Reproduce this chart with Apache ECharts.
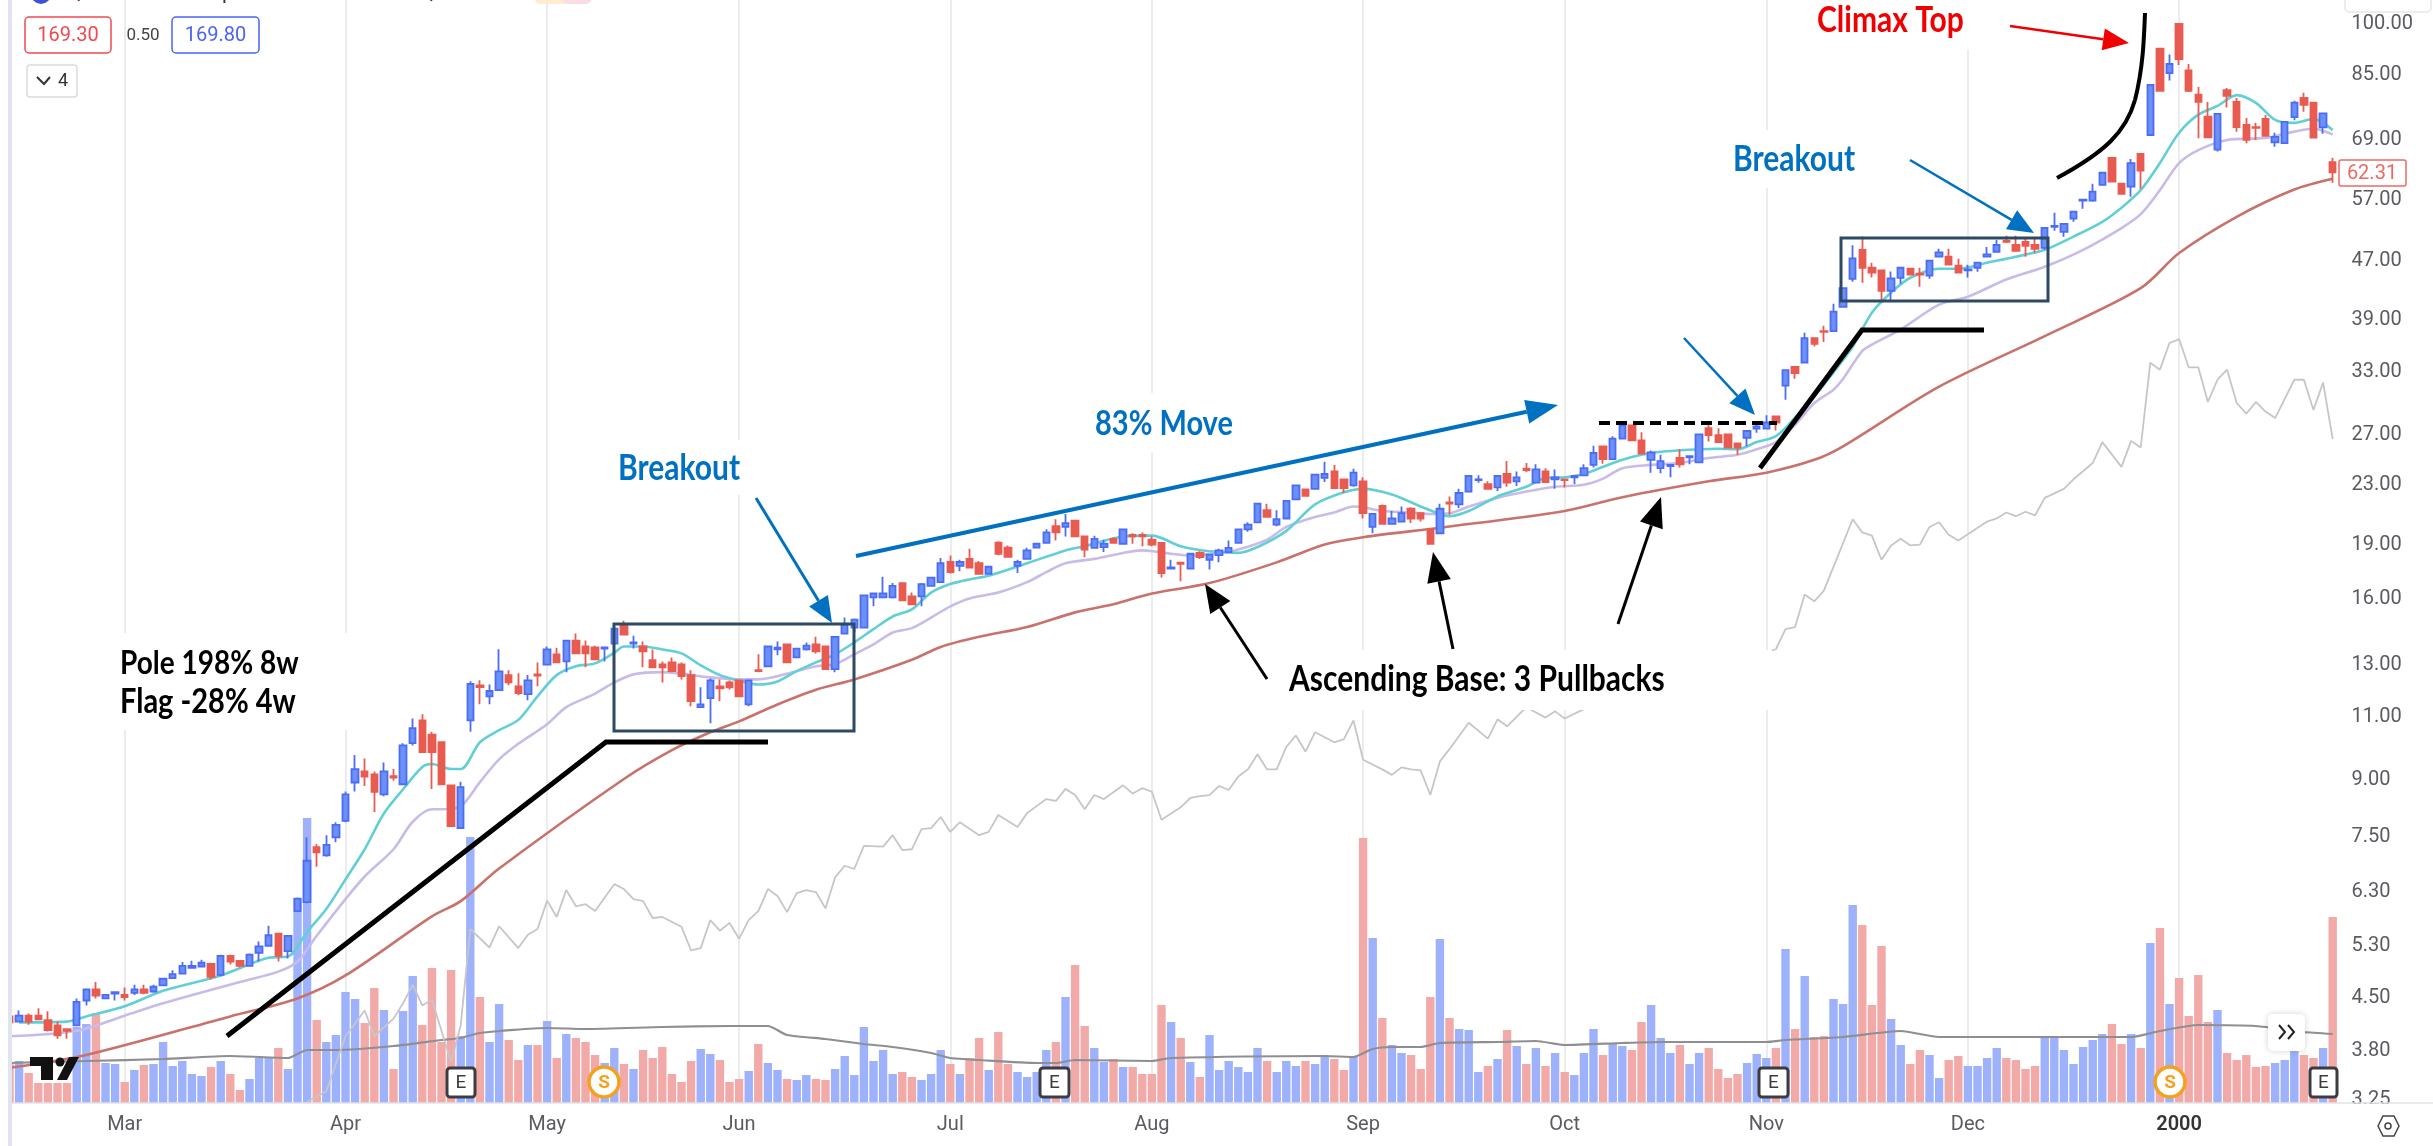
<!DOCTYPE html>
<html>
<head>
<meta charset="utf-8">
<title>QUALCOMM 1999</title>
<script src="https://cdn.jsdelivr.net/npm/echarts@6/dist/echarts.min.js"></script>
<style>
html, body { margin: 0; padding: 0; background: #fff; }
#main { width: 2433px; height: 1146px; }
</style>
</head>
<body>
<div id="main"></div>
<script>
// month labels and where they fall (trading day index)
var monthIdx = [12, 35, 56, 76, 98, 119, 141, 162, 183, 204, 226];
var monthNames = ['Mar', 'Apr', 'May', 'Jun', 'Jul', 'Aug', 'Sep', 'Oct', 'Nov', 'Dec', '2000'];
var dayCount = 243;
var priceTicks = [100, 85, 69, 57, 47, 39, 33, 27, 23, 19, 16, 13, 11, 9, 7.5, 6.3, 5.3, 4.5, 3.8, 3.25];

// open, close, low, high
var ohlc = [
[4.24,4.16,4.14,4.26],[4.17,4.25,4.16,4.32],[4.25,4.17,4.13,4.28],[4.25,4.20,4.19,4.35],[4.19,4.06,4.04,4.31],[4.12,3.99,3.95,4.17],[4.07,4.05,3.95,4.07],[4.12,4.44,4.12,4.49],[4.46,4.62,4.39,4.63],[4.62,4.53,4.49,4.73],
[4.49,4.54,4.49,4.55],[4.56,4.58,4.46,4.58],[4.54,4.51,4.46,4.65],[4.57,4.62,4.54,4.69],[4.62,4.57,4.55,4.69],[4.59,4.66,4.57,4.69],[4.68,4.78,4.68,4.79],[4.79,4.85,4.79,4.91],[4.86,4.98,4.86,5.04],[4.95,4.98,4.95,5.06],
[4.97,5.03,4.96,5.08],[5.01,4.81,4.77,5.03],[4.84,5.14,4.82,5.16],[5.14,5.05,5.00,5.16],[5.06,4.98,4.96,5.07],[4.98,5.16,4.97,5.18],[5.19,5.30,5.05,5.38],[5.31,5.49,5.31,5.66],[5.52,5.14,5.05,5.52],[5.22,5.48,5.10,5.49],
[5.93,6.17,5.93,6.19],[6.10,6.96,6.08,7.5],[7.27,7.15,6.83,7.34],[7.08,7.32,7.05,7.55],[7.50,7.80,7.38,7.87],[7.9,8.6,7.87,8.68],[8.93,9.32,8.68,9.75],[9.25,9.10,8.83,9.64],[9.16,8.67,8.13,9.25],[8.6,9.25,8.55,9.52],
[9.11,9.07,8.98,9.32],[8.88,10.05,8.85,10.12],[10.12,10.62,10.05,10.95],[10.88,9.84,9.84,11.1],[10.4,9.84,8.75,10.5],[10.15,8.88,8.88,10.15],[8.85,7.77,7.77,8.85],[7.72,8.8,7.7,8.95],[10.88,12.22,10.5,12.33],[12.17,12.1,11.46,12.37],
[11.75,11.95,11.46,12.2],[11.98,12.72,11.95,13.65],[12.57,12.28,12.17,12.77],[12.13,11.87,11.79,12.65],[11.83,12.36,11.6,12.57],[12.60,12.55,12.13,13.09],[13.0,13.64,12.97,13.77],[13.43,13.09,13.05,13.72],[13.13,14.03,12.69,14.03],[14.03,13.47,13.47,14.35],
[13.77,13.47,12.89,14.03],[13.73,13.22,13.18,13.8],[13.68,13.73,13.13,13.75],[13.9,14.58,13.86,14.6],[14.71,14.3,14.3,14.95],[13.9,13.95,13.68,14.25],[13.77,13.56,12.89,13.99],[13.18,12.89,12.89,13.64],[13.01,12.89,12.28,13.13],[13.09,12.73,12.69,13.3],
[13.01,12.53,12.4,13.09],[12.57,11.57,11.38,12.77],[11.35,11.45,11.35,12.09],[11.68,12.36,10.78,12.44],[12.13,12.05,11.57,12.4],[12.28,12.09,12.01,12.36],[12.36,11.75,11.75,12.36],[11.45,12.36,11.38,12.36],[12.77,12.73,12.69,13.43],[12.93,13.77,12.9,13.8],
[13.64,13.72,13.39,13.99],[13.86,13.09,13.05,13.9],[13.3,13.68,13.28,13.7],[13.64,13.81,13.6,13.95],[13.86,13.56,13.47,14.2],[13.77,12.81,12.78,13.8],[12.81,14.2,12.69,14.22],[14.35,14.76,14.35,15.1],[14.62,15.0,14.42,15.05],[14.62,16.2,14.6,16.22],
[16.1,16.3,15.65,16.32],[16.1,16.3,16.1,17.2],[16.1,16.7,16.05,16.85],[16.85,15.95,15.9,16.9],[16.15,15.75,15.7,16.35],[16.15,16.8,15.65,16.85],[16.7,17.15,16.65,17.2],[16.9,17.95,16.88,18.25],[18.02,17.45,17.38,18.4],[17.8,18.02,17.5,18.15],
[18.2,17.7,17.7,18.8],[17.95,17.35,17.3,18.08],[17.35,17.75,17.3,17.75],[19.17,18.5,18.42,19.25],[18.86,18.32,18.32,19.0],[17.8,18.02,17.4,18.15],[18.2,18.7,18.15,18.86],[18.86,19.1,18.85,19.15],[19.15,19.8,19.1,20.0],[20.2,19.8,19.3,20.65],
[20.15,20.4,19.55,21.0],[20.55,19.55,19.55,20.6],[19.55,18.75,18.3,19.6],[18.85,19.4,18.82,19.6],[18.9,19.1,18.6,19.35],[19.4,19.15,19.1,19.5],[19.1,20.0,19.05,20.05],[19.65,19.55,19.1,19.75],[19.65,19.55,18.95,19.8],[19.35,19.05,18.95,19.55],
[19.15,17.4,17.15,19.15],[17.65,17.72,17.65,18.15],[17.98,17.92,16.95,18.0],[17.65,18.5,17.65,18.55],[18.55,18.3,18.2,18.65],[18.15,18.45,17.6,18.5],[18.42,18.7,18.0,18.8],[18.6,18.85,18.6,19.3],[19.15,20.0,19.1,20.05],[20.0,20.3,19.85,20.45],
[20.45,21.7,20.4,21.75],[21.25,20.8,20.75,21.7],[20.3,20.65,20.2,21.25],[20.7,21.9,20.7,21.95],[22.0,23.0,21.95,23.05],[22.7,22.25,22.2,22.75],[22.75,23.8,22.7,23.85],[23.55,23.85,23.25,24.8],[24.05,22.8,22.8,24.55],[23.45,22.8,22.45,23.5],
[23.0,23.95,22.9,24.25],[23.3,21.05,20.7,23.6],[20.15,21.0,19.75,21.0],[21.55,20.35,20.3,21.65],[20.35,20.7,20.3,21.2],[20.5,21.05,20.5,21.5],[21.35,20.7,20.4,21.45],[21.05,20.7,20.5,21.1],[20.0,19.1,19.1,20.05],[19.75,21.35,19.75,21.7],
[21.78,21.7,20.95,22.2],[21.65,22.45,21.4,22.75],[22.55,23.7,22.5,23.75],[23.4,23.45,23.2,23.75],[23.1,22.75,22.7,23.3],[22.85,23.7,22.6,23.75],[23.85,23.2,22.9,24.85],[23.3,23.6,22.95,24.05],[24.25,24.15,24.0,24.7],[23.2,24.2,23.15,24.6],
[24.05,23.25,23.2,24.3],[23.45,23.6,22.75,24.2],[23.45,23.4,22.85,23.5],[23.6,23.7,23.1,23.7],[23.75,24.3,23.7,24.6],[24.55,25.5,24.35,26.1],[26.05,25.0,24.65,26.1],[25.0,26.7,25.0,26.9],[26.7,27.85,26.65,28.1],[27.85,26.55,26.5,27.9],
[26.55,25.45,25.4,27.25],[24.95,25.55,23.95,25.7],[24.3,24.85,23.9,25.35],[24.45,24.55,23.6,24.55],[25.1,24.6,24.35,25.8],[25.15,25.25,24.6,25.25],[24.75,27.05,24.75,27.1],[27.6,27.0,26.45,28.2],[27.0,26.4,26.4,27.6],[27.05,25.95,25.95,27.1],
[26.3,25.95,25.35,26.3],[26.75,27.35,26.05,27.4],[27.55,27.75,27.2,27.9],[27.55,28.1,27.55,28.75],[28.65,28.1,27.4,28.7],[31.6,33.2,30.2,33.25],[33.55,32.9,32.3,33.6],[34.0,36.75,34.0,37.4],[36.75,36.1,35.8,36.8],[37.6,37.5,36.3,38.25],
[37.6,40.0,37.5,41.0],[40.6,43.1,40.5,43.15],[44.4,47.4,44.0,49.4],[48.7,46.0,43.85,50.8],[46.0,45.3,44.6,46.75],[45.6,42.75,41.25,45.65],[42.75,44.45,41.25,45.45],[44.55,46.0,43.7,46.05],[45.85,45.0,44.95,45.9],[45.15,45.0,43.3,46.0],
[44.85,47.05,44.4,47.1],[47.65,48.3,47.6,48.85],[47.65,46.45,46.4,48.85],[46.3,45.3,45.15,47.35],[45.6,45.75,44.6,46.45],[46.0,46.75,45.4,46.8],[47.65,48.0,47.65,49.15],[48.4,49.45,48.4,50.25],[50.1,49.95,49.75,50.95],[49.45,48.55,48.55,50.95],
[49.95,49.3,47.65,50.6],[49.45,48.85,48.25,50.45],[49.0,52.2,48.7,52.3],[52.4,52.55,51.75,54.8],[51.55,52.9,50.75,52.95],[53.8,55.0,53.25,55.05],[56.95,57.15,55.5,57.2],[56.95,58.6,56.75,60.1],[59.9,62.25,59.85,62.45],[65.25,60.5,60.45,65.3],
[60.1,58.2,58.15,60.15],[59.55,64.2,57.65,65.05],[66.1,62.65,59.15,66.15],[70.2,82.35,70.15,82.4],[92.4,80.8,80.75,92.5],[85.5,88.0,83.5,90.7],[100,89.4,87.7,100.2],[86.2,80.8,80.5,88.0],[79.8,78.0,69.5,81.8],[74.4,69.7,69.7,78.0],
[67.0,75.1,66.6,75.15],[81.0,79.5,76.6,81.5],[78.0,72.0,70.9,79.0],[72.5,69.1,68.4,74.1],[72.0,71.8,69.1,73.0],[73.9,70.0,70.0,74.8],[68.6,69.8,67.6,70.7],[68.4,73.2,68.35,73.4],[74.3,77.8,73.6,78.3],[79.0,77.3,75.6,80.3],
[77.8,69.6,69.6,77.9],[71.9,75.2,70.5,75.4],[64.4,62.31,60.3,65.3]
];

var volumes = [
4.0,4.2,3.0,2.0,2.0,2.0,2.0,7.6,7.9,9.0,4.0,3.9,2.1,3.3,3.8,3.9,6.1,3.7,4.2,2.9,
2.7,3.6,4.2,2.9,1.3,2.4,4.5,4.6,5.5,3.4,20.5,28.5,8.3,6.1,6.8,11.1,10.4,8.0,11.5,9.3,
3.4,9.2,12.7,7.8,13.5,6.1,13.3,6.7,26.6,10.6,6.1,9.9,6.3,4.3,5.8,5.8,8.2,4.5,6.9,6.5,
6.1,4.8,4.0,5.5,3.9,3.4,5.3,4.5,5.6,2.9,2.1,4.2,5.4,4.9,4.3,2.1,2.4,3.2,5.9,4.0,
3.3,2.4,2.3,2.8,2.4,2.3,3.4,4.7,2.8,7.6,4.2,5.3,2.9,3.1,2.6,2.3,2.9,5.3,3.9,2.9,
4.5,6.5,3.3,7.1,3.9,3.1,2.6,3.1,5.3,6.1,10.6,13.8,7.7,5.5,4.1,4.4,3.6,3.6,2.9,2.9,
9.8,8.1,6.5,4.1,2.6,6.8,3.3,4.2,3.6,3.1,5.5,4.2,3.1,4.2,3.7,4.2,3.9,4.8,4.4,3.3,
4.6,26.5,16.5,8.5,5.8,5.0,4.8,3.4,10.6,16.4,8.5,7.4,7.3,3.1,3.7,4.4,7.3,5.7,3.9,5.5,
3.7,5.0,3.1,2.8,5.0,7.4,4.8,6.0,5.7,5.3,8.1,9.8,6.5,5.0,5.8,3.9,5.0,5.5,3.4,2.5,
2.9,4.0,4.9,4.5,5.5,15.4,7.4,12.7,6.6,6.7,10.4,9.9,19.8,17.8,9.8,15.7,8.4,5.8,3.9,5.3,
4.8,2.5,4.3,4.7,3.7,3.7,4.5,5.5,4.5,4.3,3.4,3.7,6.6,6.7,5.3,3.9,5.6,6.3,6.9,7.9,
5.9,6.9,5.5,16.0,17.5,9.9,12.5,8.7,12.8,8.1,9.3,5.0,4.3,4.8,3.6,3.7,4.0,4.3,5.2,4.8,
4.5,5.5,18.6
];

// [day index, value]
var volAvg = [[0,4.0],[8,4.2],[16,4.4],[23,4.7],[29,4.5],[31,5.3],[34,5.3],[40,5.7],[45,6.3],[47,6.5],[49,7.0],[56,7.5],[60,7.4],[68,7.6],[75,7.7],[79,7.7],[81,6.8],[85,6.4],[89,5.9],[92,5.6],[96,5.0],[98,4.5],[101,4.3],[107,4.0],[109,4.0],[111,4.3],[119,4.2],[121,4.5],[137,4.7],[140,4.6],[142,5.4],[144,5.6],[147,5.6],[149,6.0],[155,6.1],[159,6.2],[162,5.8],[168,6.0],[172,6.1],[183,6.1],[185,6.3],[191,6.6],[197,7.2],[201,6.6],[221,6.6],[224,7.2],[228,7.8],[234,7.7],[239,7.1],[242,6.9]];

var maFast = [[1,4.16],[6,4.17],[8,4.24],[12,4.38],[16,4.6],[22,4.83],[27,5.11],[29,5.13],[31,5.55],[33,5.97],[35,6.56],[37,7.22],[39,8.09],[41,8.74],[43,9.38],[44,9.47],[46,9.32],[47,9.32],[49,10.15],[51,10.55],[53,10.9],[55,11.75],[57,12.57],[59,12.93],[61,13.05],[63,13.5],[64,13.77],[66,13.77],[68,13.64],[70,13.47],[72,12.97],[74,12.57],[76,12.36],[78,12.2],[80,12.32],[82,12.73],[84,13.09],[86,13.43],[88,13.95],[90,14.55],[92,15.15],[94,15.5],[96,16.35],[98,16.8],[100,17.05],[102,17.25],[106,17.95],[110,18.7],[112,18.95],[116,19.55],[119,19.6],[122,18.95],[125,18.65],[128,18.55],[130,18.9],[133,19.9],[136,21.65],[139,22.5],[141,22.75],[144,22.35],[147,21.5],[149,21.0],[150,20.85],[152,21.2],[155,22.2],[158,22.9],[160,23.55],[162,23.6],[164,23.85],[166,24.4],[168,24.95],[170,25.35],[172,25.6],[176,25.8],[178,25.85],[180,25.8],[182,26.4],[184,26.9],[186,28.55],[189,31.7],[191,34.3],[192,35.75],[194,39.85],[196,42.5],[198,44.55],[201,45.85],[203,45.85],[206,46.75],[209,47.65],[212,48.7],[215,50.8],[218,53.25],[220,55.7],[222,58.9],[224,64.2],[226,70.7],[228,74.9],[230,77.0],[232,79.7],[234,77.75],[236,73.65],[238,72.95],[240,73.9],[242,71.3]];

var maMid = [[0,3.98],[7,4.05],[12,4.25],[16,4.42],[24,4.73],[28,4.89],[30,5.05],[32,5.48],[35,6.16],[37,6.62],[40,7.22],[42,7.88],[44,8.2],[45,8.2],[47,8.28],[49,8.94],[51,9.61],[53,10.1],[56,10.75],[58,11.35],[61,11.85],[63,12.28],[65,12.6],[68,12.69],[73,12.48],[76,12.4],[78,12.4],[82,12.73],[84,12.93],[86,13.01],[88,13.43],[90,13.86],[92,14.4],[94,14.6],[96,15.1],[98,15.65],[100,16.05],[103,16.35],[106,16.9],[108,17.45],[110,17.95],[113,18.2],[116,18.55],[118,18.7],[121,18.5],[123,18.4],[126,18.55],[128,18.75],[131,19.35],[133,20.15],[136,20.8],[138,21.1],[140,21.5],[141,21.45],[143,21.2],[146,21.1],[148,21.0],[150,21.05],[152,21.5],[155,22.1],[158,22.55],[161,22.9],[164,23.05],[166,23.5],[168,24.3],[171,24.55],[174,24.7],[177,25.1],[180,25.35],[182,25.8],[184,26.4],[186,27.9],[188,29.9],[190,31.2],[191,32.3],[193,35.3],[194,36.0],[197,37.8],[201,40.9],[204,41.95],[208,44.3],[212,46.15],[216,48.7],[220,52.2],[222,54.55],[224,58.9],[226,64.2],[228,66.9],[231,69.1],[235,69.55],[238,70.95],[240,71.6],[242,70.3]];

var maSlow = [[0,3.60],[8,3.75],[23,4.24],[30,4.49],[35,4.83],[44,5.83],[47,6.12],[51,6.79],[64,9.03],[69,9.9],[73,10.48],[76,10.85],[80,11.45],[84,12.0],[88,12.4],[94,13.2],[97,13.75],[101,14.2],[106,14.65],[111,15.35],[115,15.75],[119,16.3],[125,16.85],[132,18.0],[137,19.05],[141,19.5],[149,20.1],[162,21.2],[168,22.15],[177,23.3],[183,23.95],[188,24.95],[191,26.05],[201,31.5],[212,37.0],[222,43.1],[226,48.2],[232,54.1],[238,59.0],[242,61.05]];

var rsLine = [[31,3.23],[33,3.34],[35,3.98],[37,4.32],[38,3.98],[40,4.21],[41,4.42],[42,4.69],[43,4.39],[44,4.47],[46,3.67],[47,4.12],[48,5.6],[50,5.28],[51,5.65],[53,5.27],[54,5.5],[55,5.6],[56,6.13],[57,5.82],[58,6.34],[59,6.02],[60,6.06],[61,5.93],[63,6.46],[64,6.36],[65,6.16],[66,6.12],[67,5.8],[68,5.82],[70,5.64],[71,5.23],[72,5.27],[73,5.76],[74,5.57],[75,5.71],[76,5.43],[77,5.76],[78,5.93],[79,6.36],[80,6.22],[81,5.91],[82,6.28],[83,6.34],[84,6.3],[85,5.98],[86,6.6],[87,6.85],[88,6.78],[89,7.3],[91,7.28],[92,7.55],[93,7.2],[94,7.22],[95,7.7],[96,7.72],[97,8.0],[98,7.63],[99,7.87],[101,7.55],[102,7.63],[103,8.05],[105,7.75],[106,8.1],[108,8.47],[109,8.42],[110,8.75],[111,8.58],[112,8.2],[113,8.58],[114,8.47],[116,8.85],[117,8.62],[118,8.77],[119,8.67],[120,7.93],[122,8.25],[123,8.5],[124,8.55],[125,8.58],[126,8.83],[127,8.72],[128,9.1],[129,9.31],[130,9.77],[131,9.31],[132,9.31],[133,10.0],[134,10.37],[135,9.85],[136,10.48],[138,10.15],[139,10.25],[140,10.88],[141,9.6],[143,9.31],[144,9.15],[145,9.37],[146,9.31],[147,9.28],[148,8.58],[149,9.55],[150,9.93],[152,10.8],[154,10.27],[155,10.92],[156,10.68],[158,11.35],[160,10.98],[161,11.2],[162,10.95],[164,11.28],[184,13.65],[185,14.55],[186,14.65],[187,16.25],[188,15.9],[189,16.45],[192,20.65],[193,19.8],[194,19.6],[195,18.15],[196,19.0],[197,19.4],[198,19.0],[199,19.05],[200,20.15],[201,20.45],[202,19.65],[203,19.3],[206,20.5],[207,20.7],[208,21.1],[209,20.85],[210,21.15],[211,20.9],[212,22.1],[214,22.75],[215,23.45],[217,24.7],[218,26.4],[220,24.4],[221,26.5],[222,25.95],[223,34.0],[224,33.25],[225,36.2],[226,36.65],[227,33.5],[228,33.5],[229,30.0],[230,32.2],[231,33.25],[232,29.9],[233,28.9],[234,30.0],[235,29.1],[236,28.5],[238,32.2],[239,32.2],[240,29.25],[241,31.9],[242,26.65]];

var UP = '#6b91f6', UP_LINE = '#4d6cf5', DOWN = '#e85b50';
var BLUE = '#0070c0';
var LABEL_FONT = 'Lato';

var categories = [];
for (var i = 0; i < dayCount; i++) {
    var m = monthIdx.indexOf(i);
    categories.push(m >= 0 ? monthNames[m] : '');
}

var volumeBars = volumes.map(function (v, i) {
    var up = ohlc[i][1] > ohlc[i][0];
    return { value: v, itemStyle: { color: up ? '#9db2fb' : '#f2aaa8' } };
});

// hand drawn notes that sit on top of the chart
function line(points, color, width, dash) {
    return {
        type: 'polyline', z: 110, silent: true,
        shape: { points: points },
        style: { stroke: color, lineWidth: width, fill: null, lineDash: dash || null }
    };
}

function arrow(x1, y1, x2, y2, color, width, headLen, headWid) {
    var dx = x2 - x1, dy = y2 - y1, d = Math.sqrt(dx * dx + dy * dy);
    var ux = dx / d, uy = dy / d;
    var bx = x2 - ux * headLen, by = y2 - uy * headLen;
    return [
        line([[x1, y1], [bx, by]], color, width),
        {
            type: 'polygon', z: 110, silent: true,
            shape: { points: [[x2, y2], [bx - uy * headWid / 2, by + ux * headWid / 2], [bx + uy * headWid / 2, by - ux * headWid / 2]] },
            style: { fill: color }
        }
    ];
}

function note(str, x, y, color, size) {
    return {
        type: 'text', z: 111, silent: true, x: x, y: y, scaleY: 1.18,
        style: { text: str, fill: color, font: 'bold ' + size + 'px ' + LABEL_FONT, verticalAlign: 'middle', align: 'left' }
    };
}

function whiteBox(x, y, w, h) {
    return { type: 'rect', z: 100, silent: true, shape: { x: x, y: y, width: w, height: h }, style: { fill: '#fff' } };
}

function box(x, y, w, h) {
    return { type: 'rect', z: 110, silent: true, shape: { x: x, y: y, width: w, height: h }, style: { fill: null, stroke: '#2c4a63', lineWidth: 3 } };
}

function earnings(x, w) {
    return [
        { type: 'rect', z: 105, silent: true, shape: { x: x, y: 1068, width: w, height: 29, r: 3 }, style: { fill: '#fff', stroke: '#3c3c40', lineWidth: 3 } },
        { type: 'text', z: 106, silent: true, x: x + w / 2, y: 1083, style: { text: 'E', fill: '#3c3c40', font: '19px Roboto', align: 'center', verticalAlign: 'middle' } }
    ];
}

function split(x) {
    return [
        { type: 'circle', z: 105, silent: true, shape: { cx: x, cy: 1082, r: 15 }, style: { fill: '#fff', stroke: '#f5a01f', lineWidth: 3.5 } },
        { type: 'text', z: 106, silent: true, x: x, y: 1083, style: { text: 'S', fill: '#f5a01f', font: 'bold 19px Roboto', align: 'center', verticalAlign: 'middle' } }
    ];
}

function quote(x, w, str, color) {
    return [
        { type: 'rect', z: 105, silent: true, shape: { x: x, y: 17, width: w, height: 36, r: 4 }, style: { fill: '#fff', stroke: color, lineWidth: 1.5 } },
        { type: 'text', z: 106, silent: true, x: x + w / 2, y: 36, style: { text: str, fill: color, font: '20px Roboto', align: 'center', verticalAlign: 'middle' } }
    ];
}

var drawn = [].concat(
    // left edge of the panel
    [{ type: 'rect', z: 99, silent: true, shape: { x: 0, y: 0, width: 12, height: 1146 }, style: { fill: '#fff' } },
     { type: 'rect', z: 99, silent: true, shape: { x: 8, y: 0, width: 4, height: 1146 }, style: { fill: '#e0e4ee' } },
     line([[12, 1103], [2433, 1103]], '#e0e3eb', 1.5)],
    whiteBox(100, 633, 260, 97),
    whiteBox(1050, 393, 200, 59),
    whiteBox(1262, 650, 510, 60),
    whiteBox(1725, 130, 180, 58),
    whiteBox(1805, 0, 190, 49),
    whiteBox(610, 440, 150, 55),
    // the lowest tick label is cut by the time scale
    whiteBox(2340, 1104, 93, 14),
    // legend bits at the top left
    [{ type: 'circle', z: 105, silent: true, shape: { cx: 41, cy: -6, r: 10 }, style: { fill: '#3f51d8' } },
     { type: 'text', z: 105, silent: true, x: 67, y: 4, style: { text: 'Qualcomm Incorporated · 1D · NASDAQ', fill: '#333', font: '21px Roboto', verticalAlign: 'bottom' } },
     { type: 'rect', z: 105, silent: true, shape: { x: 535, y: -8, width: 56, height: 12, r: 5 }, style: { fill: '#fdeccd' } },
     { type: 'rect', z: 105, silent: true, shape: { x: 563, y: -8, width: 28, height: 12, r: 5 }, style: { fill: '#fbdce4' } },
     { type: 'text', z: 106, silent: true, x: 143, y: 36, style: { text: '0.50', fill: '#444', font: '17px Roboto', align: 'center', verticalAlign: 'middle' } },
     { type: 'rect', z: 105, silent: true, shape: { x: 27, y: 65, width: 50, height: 32, r: 3 }, style: { fill: '#fff', stroke: '#dcdcdc', lineWidth: 1.5 } },
     line([[37, 77], [44, 84], [50, 77]], '#333', 2),
     { type: 'text', z: 106, silent: true, x: 63, y: 81, style: { text: '4', fill: '#333', font: '18px Roboto', align: 'center', verticalAlign: 'middle' } }],
    quote(25, 86, '169.30', '#f04a50'),
    quote(172, 87, '169.80', '#4a64f5'),
    // logo
    [{ type: 'polygon', z: 105, silent: true, shape: { points: [[30, 1057], [53, 1057], [53, 1080], [41, 1080], [41, 1066], [30, 1066]] }, style: { fill: '#111' } },
     { type: 'circle', z: 105, silent: true, shape: { cx: 60, cy: 1062, r: 4.5 }, style: { fill: '#111' } },
     { type: 'polygon', z: 105, silent: true, shape: { points: [[69, 1057], [79, 1057], [67, 1080], [57, 1080]] }, style: { fill: '#111' } }],
    earnings(447, 28), earnings(1040, 29), earnings(1759, 29), earnings(2310, 27),
    split(604), split(2170),
    // scroll button, settings hexagon, last price tag
    [{ type: 'rect', z: 105, silent: true, shape: { x: 2268, y: 1014, width: 37, height: 37, r: 5 }, style: { fill: '#fff', shadowBlur: 6, shadowColor: 'rgba(0,0,0,0.18)' } },
     line([[2279, 1025], [2285, 1032], [2279, 1039]], '#222', 2),
     line([[2288, 1025], [2294, 1032], [2288, 1039]], '#222', 2),
     { type: 'polygon', z: 105, silent: true, shape: { points: [[2378, 1126], [2383, 1116], [2394, 1116], [2399, 1126], [2394, 1136], [2383, 1136]] }, style: { fill: null, stroke: '#444', lineWidth: 1.5 } },
     { type: 'circle', z: 105, silent: true, shape: { cx: 2388, cy: 1126, r: 3 }, style: { fill: null, stroke: '#444', lineWidth: 1.5 } },
     { type: 'rect', z: 105, silent: true, shape: { x: 2339, y: 160, width: 67, height: 26, r: 2 }, style: { fill: '#fff', stroke: '#ec6a62', lineWidth: 1.5 } },
     { type: 'text', z: 106, silent: true, x: 2372, y: 174, style: { text: '62.31', fill: '#ec6a62', font: '20px Roboto', align: 'center', verticalAlign: 'middle' } },
     { type: 'rect', z: 105, silent: true, shape: { x: 2345, y: -6, width: 86, height: 18, r: 4 }, style: { fill: '#fff', stroke: '#e6e6e6', lineWidth: 1.5 } }],
    // notes
    note('Pole 198% 8w', 120, 663, '#000', 28),
    note('Flag -28% 4w', 120, 702, '#000', 29),
    note('Breakout', 618, 469, BLUE, 30),
    note('83% Move', 1095, 424, BLUE, 29),
    note('Ascending Base: 3 Pullbacks', 1289, 680, '#000', 30),
    note('Breakout', 1733, 160, BLUE, 30),
    note('Climax Top', 1817, 21, '#f00000', 30),
    line([[227, 1036], [606, 742], [768, 742]], '#000', 5),
    box(614, 624, 240, 107),
    box(1841, 238, 207, 63),
    arrow(756, 498, 832, 623, BLUE, 3, 26, 22),
    arrow(856, 556, 1558, 405, BLUE, 4, 32, 24),
    arrow(1267, 679, 1205, 584, '#000', 3, 28, 24),
    arrow(1453, 649, 1433, 552, '#000', 3, 30, 24),
    arrow(1618, 624, 1661, 497, '#000', 3, 30, 24),
    line([[1599, 423], [1777, 423]], '#000', 4, [11, 6]),
    arrow(1684, 338, 1755, 415, BLUE, 2.5, 26, 22),
    line([[1760, 468], [1862, 330], [1984, 330]], '#000', 5),
    arrow(1910, 160, 2034, 233, BLUE, 2.5, 26, 22),
    arrow(2010, 26, 2129, 43, '#f00000', 2.5, 26, 22),
    [{
        type: 'bezierCurve', z: 110, silent: true,
        shape: { x1: 2057, y1: 178, cpx1: 2105, cpy1: 152, cpx2: 2126, cpy2: 132, x2: 2135, y2: 100 },
        style: { fill: null, stroke: '#000', lineWidth: 4 }
    }, {
        type: 'bezierCurve', z: 110, silent: true,
        shape: { x1: 2135, y1: 100, cpx1: 2143, cpy1: 68, cpx2: 2144, cpy2: 40, x2: 2145, y2: 13 },
        style: { fill: null, stroke: '#000', lineWidth: 4 }
    }]
);

var myChart = echarts.init(document.getElementById('main'));

var option = {
    animation: false,
    backgroundColor: '#fff',
    graphic: drawn,
    grid: { left: 4.7, top: 0, width: 2332.8, height: 1103 },
    xAxis: {
        type: 'category',
        data: categories,
        boundaryGap: true,
        axisLine: { show: false },
        axisTick: { show: false },
        axisLabel: {
            interval: function (index) { return monthIdx.indexOf(index) >= 0; },
            margin: 12,
            fontFamily: 'Roboto',
            fontSize: 20,
            color: '#5a5a60',
            formatter: function (v) { return v === '2000' ? '{y|2000}' : v; },
            rich: { y: { fontFamily: 'Roboto', fontSize: 20, fontWeight: 600, color: '#333' } }
        },
        splitLine: {
            show: true,
            alignWithLabel: true,
            interval: function (index) { return monthIdx.indexOf(index) >= 0; },
            lineStyle: { color: '#e6e6ea', width: 1.5 }
        }
    },
    yAxis: [
        {
            type: 'log',
            logBase: 10,
            position: 'right',
            min: 3.218,
            max: 107.9,
            axisLine: { show: false },
            axisTick: { show: false },
            splitLine: { show: false },
            minorSplitLine: { show: false },
            axisLabel: {
                customValues: priceTicks,
                margin: 14,
                fontFamily: 'Roboto',
                fontSize: 20,
                color: '#5a5a60',
                formatter: function (v) { return Number(v).toFixed(2); }
            }
        },
        {
            type: 'value',
            min: 0,
            max: 110.3,
            show: false
        }
    ],
    series: [
        {
            name: 'Volume', type: 'bar', yAxisIndex: 1, z: 1,
            barWidth: 8.4,
            data: volumeBars
        },
        {
            name: 'Volume avg', type: 'line', yAxisIndex: 1, z: 2,
            showSymbol: false, smooth: 0.2,
            lineStyle: { color: '#8f8f93', width: 2.2 },
            data: volAvg
        },
        {
            name: 'RS', type: 'line', yAxisIndex: 0, z: 2,
            showSymbol: false,
            lineStyle: { color: '#c6c6ca', width: 1.8 },
            data: rsLine
        },
        {
            name: 'MA slow', type: 'line', yAxisIndex: 0, z: 3,
            showSymbol: false, smooth: 0.3,
            lineStyle: { color: '#c8726b', width: 2.6 },
            data: maSlow
        },
        {
            name: 'MA mid', type: 'line', yAxisIndex: 0, z: 3,
            showSymbol: false, smooth: 0.3,
            lineStyle: { color: '#c9bbe8', width: 2.6 },
            data: maMid
        },
        {
            name: 'MA fast', type: 'line', yAxisIndex: 0, z: 3,
            showSymbol: false, smooth: 0.3,
            lineStyle: { color: '#62cfd6', width: 2.6 },
            data: maFast
        },
        {
            name: 'Price', type: 'candlestick', yAxisIndex: 0, z: 4,
            barWidth: 7,
            itemStyle: {
                color: UP, color0: DOWN,
                borderColor: UP_LINE, borderColor0: DOWN,
                borderWidth: 1.8
            },
            data: ohlc
        }
    ]
};

myChart.setOption(option);
</script>
</body>
</html>
